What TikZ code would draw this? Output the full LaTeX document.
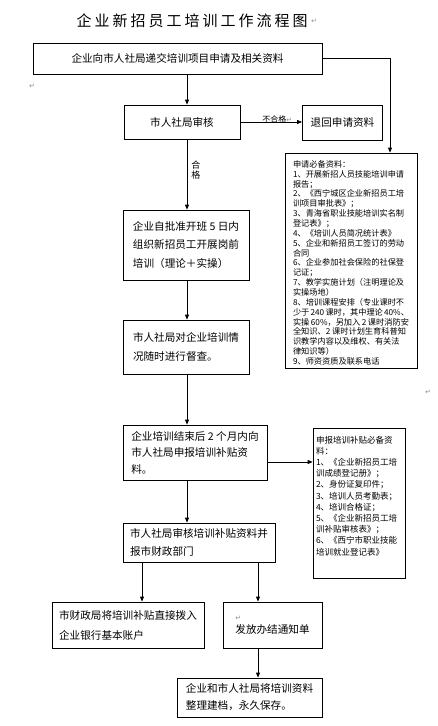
\documentclass[tikz,border=0pt]{standalone}
\usepackage{fontspec}
\setmainfont{Noto Sans CJK SC}
\newfontfamily\symfont{DejaVu Sans}
\newfontfamily\titlefont[LetterSpace=20]{Noto Sans CJK SC}
\usetikzlibrary{arrows.meta,positioning}

\newcommand{\retmark}{{\symfont\color{black!45}\fontsize{7}{7}\selectfont ↵}}

\tikzset{
  box/.style={draw,line width=0.8pt,inner sep=3pt,align=left,
    font=\fontsize{10.6}{18}\selectfont},
  arr/.style={line width=0.8pt,-{Triangle[length=5pt,width=4pt]}},
  tag/.style={inner sep=0pt}
}

\begin{document}
\begin{tikzpicture}[x=1pt,y=-1pt]
  \useasboundingbox (0,0) rectangle (437,726);
  % Title
  \node[font=\titlefont\fontsize{15}{15}\selectfont] (title) at (192,21) {企业新招员工培训工作流程图};
  \node[tag,right=0pt of title] (titlemark) {\retmark};
  \node[tag] (leftmark) at (32,86) {\retmark};
  \node[tag] (rightmark) at (428,392) {\retmark};
  % Column coordinates
  \coordinate (spine) at (187,0);
  \coordinate (colL) at (142,0);
  \coordinate (colR) at (258,0);
  \coordinate (rline) at (390,0);
  \coordinate (lvl) at (0,462);
  % Main boxes
  \node[box,align=center,minimum width=289,minimum height=31] (apply) at (177.5,58.5) {企业向市人社局递交培训项目申请及相关资料};
  \node[box,align=center,minimum width=116,minimum height=34] (review) at (182,122) {市人社局审核};
  \node[box,align=center,minimum width=80,minimum height=35] (returnbox) at (342.5,122.5) {退回申请资料};
  \node[box,minimum width=126,minimum height=70,font=\fontsize{10.6}{18.5}\selectfont] (selftrain) at (186,245)
    {企业自批准开班 5 日内\\组织新招员工开展岗前\\培训（理论＋实操）};
  \node[box,minimum width=126,minimum height=54,font=\fontsize{10.6}{19.5}\selectfont] (inspect) at (186,347)
    {市人社局对企业培训情\\况随时进行督查。};
  \node[box,minimum width=144,minimum height=55,font=\fontsize{10.6}{16.5}\selectfont] (declare) at (195,452.5)
    {企业培训结束后 2 个月内向\\市人社局申报培训补贴资\\料。};
  \node[box,minimum width=152,minimum height=39] (audit) at (199,542.5)
    {市人社局审核培训补贴资料并\\报市财政部门};
  \node[box,minimum width=152,minimum height=46,font=\fontsize{10.6}{20}\selectfont] (transfer) at (128,625)
    {市财政局将培训补贴直接拨入\\企业银行基本账户};
  \node[box,minimum width=99,minimum height=46,font=\fontsize{10.6}{13}\selectfont] (notice) at (272.5,625)
    {\retmark\\发放办结通知单};
  \node[box,minimum width=145,minimum height=39,font=\fontsize{10.6}{17}\selectfont] (archive) at (249.5,697.5)
    {企业和市人社局将培训资料\\整理建档，永久保存。};
  % Side lists
  \node[box,inner sep=0pt,minimum width=132,minimum height=215] (docs) at (351,260.5)
    {\parbox[c][200pt][t]{116pt}{\fontsize{8.2}{9.85}\selectfont
    申请必备资料：\\
    1、开展新招人员技能培训申请\\
    报告；\\
    2、《西宁城区企业新招员工培\\
    训项目审批表》；\\
    3、青海省职业技能培训实名制\\
    登记表》；\\
    4、《培训人员简况统计表》\\
    5、企业和新招员工签订的劳动\\
    合同\\
    6、企业参加社会保险的社保登\\
    记证；\\
    7、教学实施计划（注明理论及\\
    实操场地）\\
    8、培训课程安排（专业课时不\\
    少于 240 课时，其中理论 40\%、\\
    实操 60\%，另加入 2 课时消防安\\
    全知识、2 课时计划生育科普知\\
    识教学内容以及维权、有关法\\
    律知识等）\\
    9、师资资质及联系电话}};
  \node[box,inner sep=0pt,minimum width=92,minimum height=150] (subdocs) at (359,503)
    {\parbox[c][134pt][t]{86pt}{\fontsize{8.5}{11.2}\selectfont
    申报培训补贴必备资\\
    料：\\
    1、《企业新招员工培\\
    训成绩登记册》；\\
    2、身份证复印件；\\
    3、培训人员考勤表；\\
    4、培训合格证；\\
    5、《企业新招员工培\\
    训补贴审核表》；\\
    6、《西宁市职业技能\\
    培训就业登记表》}};
  % Connectors
  \draw[arr] (apply.south -| spine) -- (review.north -| spine);
  \draw[arr] (review.east) -- node[tag,above,pos=0.6,yshift=-1.5pt,font=\fontsize{8}{8}\selectfont] (failtag) {不合格\retmark} (returnbox.west |- review.east);
  \draw[arr] (apply.east) -| (docs.north -| rline);
  \draw[arr] (review.south -| spine) -- node[tag,right=4pt,pos=0.44,align=center,font=\fontsize{9}{9.5}\selectfont] (passtag) {合\\格} (selftrain.north -| spine);
  \draw[arr] (selftrain.south -| spine) -- (inspect.north -| spine);
  \draw[arr] (inspect.south -| spine) -- (declare.north -| spine);
  \draw[arr] (declare.east |- lvl) -- (subdocs.west |- lvl);
  \draw[arr] (declare.south -| spine) -- (audit.north -| spine);
  \draw[arr] (audit.south -| colL) -- (transfer.north -| colL);
  \draw[arr] (audit.south -| colR) -- (notice.north -| colR);
  \draw[arr] (notice.south -| colR) -- (archive.north -| colR);
\end{tikzpicture}
\end{document}
